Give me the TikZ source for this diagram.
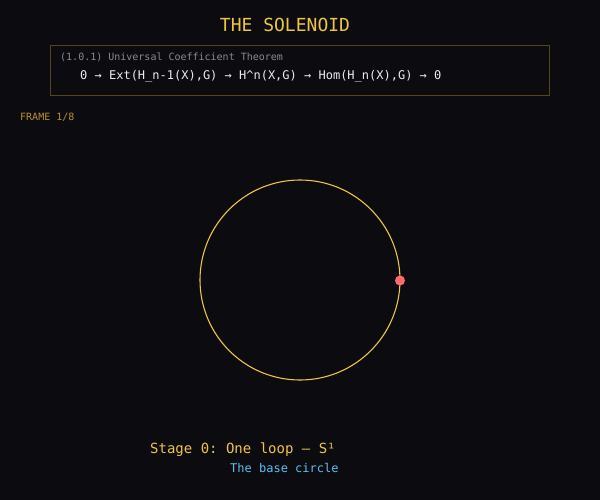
\documentclass[tikz,border=0pt]{standalone}
\usepackage{fontspec}
\setmonofont{DejaVu Sans Mono}
\definecolor{bg}{HTML}{0B0B10}
\definecolor{gold}{HTML}{EEC540}
\definecolor{dimgold}{HTML}{B8922E}
\definecolor{boxline}{HTML}{54461C}
\definecolor{grayt}{HTML}{8A8A90}
\definecolor{whitet}{HTML}{EDEDED}
\definecolor{bluet}{HTML}{5BC0F0}
\definecolor{reddot}{HTML}{FF6B6B}
\begin{document}
\begin{tikzpicture}[x=1pt,y=-1pt,
  txt/.style={inner sep=0pt,anchor=base west,font=\ttfamily},
  every node/.style={inner sep=0pt}]
\fill[bg] (0,0) rectangle (600,500);
\useasboundingbox (0,0) rectangle (600,500);
\node[anchor=base,font=\ttfamily\fontsize{18}{20}\selectfont,text=gold] (title) at (285,32) {THE SOLENOID};
\draw[boxline,line width=0.8pt,fill=bg] (50.5,45.5) rectangle (549.5,95.5);
\node[txt,font=\ttfamily\fontsize{10}{12}\selectfont,text=grayt] (hdr) at (60,61) {(1.0.1) Universal Coefficient Theorem};
\node[txt,font=\ttfamily\fontsize{12}{14}\selectfont,text=whitet] (formula) at (80,80) {0 → Ext(H\_n-1(X),G) → H\^{}n(X,G) → Hom(H\_n(X),G) → 0};
\node[txt,font=\ttfamily\fontsize{10}{12}\selectfont,text=dimgold] (frame) at (20,121) {FRAME 1/8};
\coordinate (c) at (300,280);
\draw[gold,line width=1.1pt] (c) circle[radius=100];
\fill[reddot] (400,280.5) circle[radius=5];
\node[txt,font=\ttfamily\fontsize{14}{16}\selectfont,text=gold] (stage) at (150,453) {Stage 0: One loop — S¹};
\node[txt,font=\ttfamily\fontsize{12}{14}\selectfont,text=bluet] (sub) at (230,472) {The base circle};
\end{tikzpicture}
\end{document}
